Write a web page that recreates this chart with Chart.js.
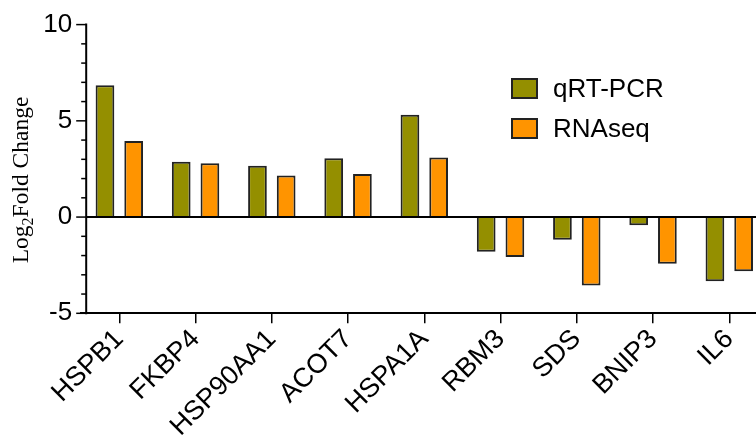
<!DOCTYPE html>
<html>
<head>
<meta charset="utf-8">
<script src="https://cdn.jsdelivr.net/npm/chart.js@4/dist/chart.umd.min.js"></script>
<style>
  html, body { margin: 0; padding: 0; background: #fff; overflow: hidden; }
  #wrap { position: relative; width: 756px; height: 437px; overflow: hidden; }
  #chart { position: absolute; left: 0; top: 0; }
  #legend { position: absolute; left: 511px; top: 78px; font-family: "Liberation Sans", Arial, sans-serif; font-size: 26px; color: #000; }
  #legend .row { display: flex; align-items: center; height: 21px; margin-bottom: 19px; white-space: nowrap; }
  #legend .box { width: 23px; height: 17px; border: 2px solid #222; margin-right: 15px; flex: none; }
</style>
</head>
<body>
<div id="wrap">
  <canvas id="chart" width="770" height="437"></canvas>
  <div id="legend"></div>
</div>
<script>
// Genes and log2 fold changes measured by each method
const genes = ['HSPB1', 'FKBP4', 'HSP90AA1', 'ACOT7', 'HSPA1A', 'RBM3', 'SDS', 'BNIP3', 'IL6'];
const qrtPcr = [6.85, 2.88, 2.66, 3.05, 5.32, -1.80, -1.18, -0.42, -3.34];
const rnaSeq = [3.95, 2.80, 2.16, 2.24, 3.09, -2.08, -3.55, -2.42, -2.82];
const yTicks = [-5, 0, 5, 10];

const seriesNames = ['qRT-PCR', 'RNAseq'];
const seriesColors = ['#948f00', '#ff9400'];

const SANS = '"Liberation Sans", Arial, Helvetica, sans-serif';
const SERIF = '"Liberation Serif", "Times New Roman", serif';
const AXIS_INSET = 5; // the vertical axis sits slightly right of the plot's left edge

// Vertical axis line with long labelled ticks and short minor ticks,
// the zero baseline over the bars, and the rotated y title with a subscript 2.
const axisPlugin = {
  id: 'axisDecor',
  afterDraw(chart) {
    const { ctx, chartArea } = chart;
    const y = chart.scales.y;
    const ax = chartArea.left + AXIS_INSET;
    ctx.save();
    ctx.strokeStyle = '#000';
    ctx.lineWidth = 2;

    // zero baseline
    const y0 = y.getPixelForValue(0);
    ctx.beginPath();
    ctx.moveTo(ax, y0);
    ctx.lineTo(chartArea.right, y0);
    ctx.stroke();

    // vertical axis
    ctx.beginPath();
    ctx.moveTo(ax, y.getPixelForValue(y.max) - 1);
    ctx.lineTo(ax, y.getPixelForValue(y.min) + 1);
    ctx.stroke();
    ctx.lineWidth = 1.5;
    y.ticks.forEach(t => {
      const py = y.getPixelForValue(t.value);
      const len = yTicks.includes(t.value) ? 10 : 5;
      ctx.beginPath();
      ctx.moveTo(ax - len, py);
      ctx.lineTo(ax, py);
      ctx.stroke();
    });

    // y-axis title: Log2 Fold Change, with the 2 as a subscript
    const parts = [
      { text: 'Log', size: 23.5, dy: 0 },
      { text: '2', size: 16, dy: 5 },
      { text: 'Fold Change', size: 23.5, dy: 0 }
    ];
    let total = 0;
    parts.forEach(p => { ctx.font = p.size + 'px ' + SERIF; p.w = ctx.measureText(p.text).width; total += p.w; });
    const cy = (chartArea.top + chartArea.bottom) / 2 + 11;
    ctx.translate(28, cy);
    ctx.rotate(-Math.PI / 2);
    ctx.fillStyle = '#000';
    ctx.textBaseline = 'alphabetic';
    ctx.textAlign = 'left';
    let x = -total / 2;
    parts.forEach(p => {
      ctx.font = p.size + 'px ' + SERIF;
      ctx.fillText(p.text, x, p.dy);
      x += p.w;
    });
    ctx.restore();
  }
};

const chart = new Chart(document.getElementById('chart'), {
  type: 'bar',
  data: {
    labels: genes,
    datasets: [
      { label: seriesNames[0], data: qrtPcr, backgroundColor: seriesColors[0] },
      { label: seriesNames[1], data: rnaSeq, backgroundColor: seriesColors[1] }
    ]
  },
  options: {
    responsive: false,
    animation: false,
    devicePixelRatio: 1,
    layout: { padding: { top: 24, right: 2.6, left: 0, bottom: 0 } },
    datasets: {
      bar: {
        categoryPercentage: 0.753,
        barPercentage: 0.652,
        borderWidth: 2,
        borderColor: '#222',
        borderSkipped: 'start'
      }
    },
    plugins: {
      legend: { display: false },
      tooltip: { enabled: false }
    },
    scales: {
      x: {
        offset: true,
        grid: {
          offset: false,
          drawOnChartArea: false,
          drawTicks: true,
          tickLength: 10,
          color: '#000',
          lineWidth: 1.5
        },
        border: { display: true, color: '#000', width: 2 },
        ticks: {
          color: '#000',
          font: { family: SANS, size: 27 },
          minRotation: 45,
          maxRotation: 45,
          autoSkip: false,
          padding: 0
        },
        afterFit(scale) { scale.height = 123.7; }
      },
      y: {
        min: -5,
        max: 10,
        grid: { display: false, drawTicks: false },
        border: { display: false },
        ticks: {
          stepSize: 1,
          autoSkip: false,
          color: '#000',
          font: { family: SANS, size: 26 },
          padding: 9,
          callback: v => (yTicks.includes(v) ? String(v) : '')
        },
        afterFit(scale) { scale.width = 81.2; }
      }
    }
  },
  plugins: [axisPlugin]
});

// Legend built from the datasets
const legend = document.getElementById('legend');
chart.data.datasets.forEach(ds => {
  const row = document.createElement('div');
  row.className = 'row';
  const box = document.createElement('div');
  box.className = 'box';
  box.style.background = ds.backgroundColor;
  const label = document.createElement('span');
  label.textContent = ds.label;
  row.appendChild(box);
  row.appendChild(label);
  legend.appendChild(row);
});
</script>
</body>
</html>
